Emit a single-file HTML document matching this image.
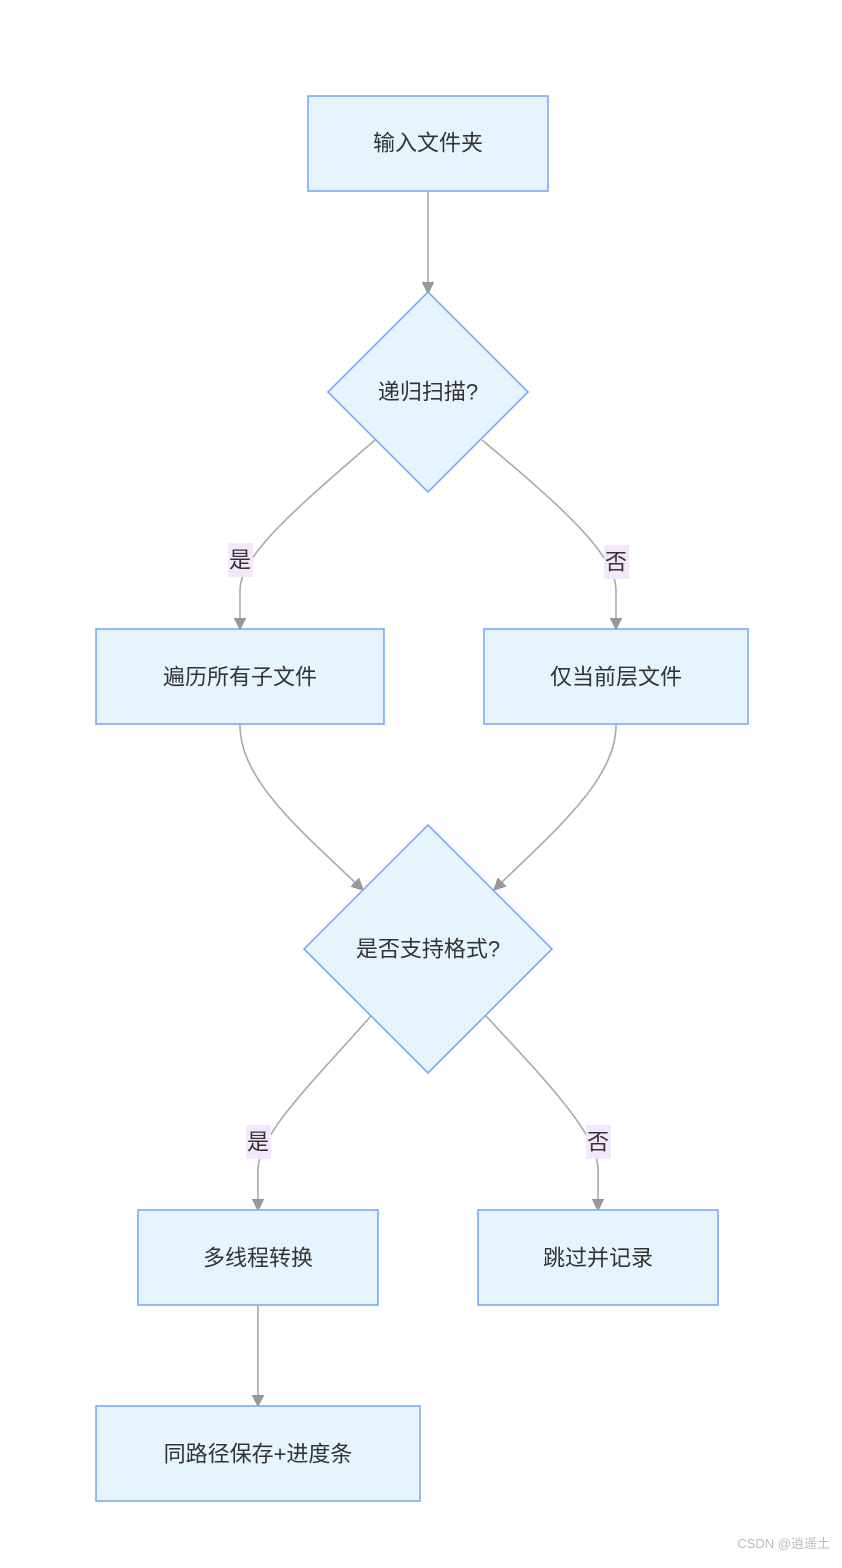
<!DOCTYPE html>
<html><head><meta charset="utf-8"><style>
body{margin:0;background:#fff;}
svg text{font-family:"Liberation Sans","Noto Sans CJK SC",sans-serif;fill:#333;}
</style></head><body>
<svg width="842" height="1563" viewBox="0 0 842 1563" xmlns="http://www.w3.org/2000/svg">
<defs><marker id="a" markerWidth="12" markerHeight="12" refX="10" refY="6" orient="auto" markerUnits="userSpaceOnUse"><path d="M0,0 L12,6 L0,12 z" fill="#999" stroke="#888" stroke-width="0.5"/></marker></defs>
<g fill="none" stroke="#aaa" stroke-width="1.6">
<path d="M428,192 L428,292" marker-end="url(#a)"/>
<path d="M375,440 C300,505 240,555 240,590 L240,628" marker-end="url(#a)"/>
<path d="M482,440 C560,505 616,555 616,590 L616,628" marker-end="url(#a)"/>
<path d="M240,725 C240,780 300,830 362,889" marker-end="url(#a)"/>
<path d="M616,725 C616,780 555,830 495,889" marker-end="url(#a)"/>
<path d="M371,1016 C310,1085 258,1135 258,1170 L258,1209" marker-end="url(#a)"/>
<path d="M486,1016 C550,1085 598,1135 598,1170 L598,1209" marker-end="url(#a)"/>
<path d="M258,1306 L258,1405" marker-end="url(#a)"/>
</g>
<g fill="#e6f5fd" stroke="#7aabf5" stroke-width="1.6">
<rect x="308" y="96" width="240" height="95"/>
<polygon points="428,292 528,392 428,492 328,392"/>
<rect x="96" y="629" width="288" height="95"/>
<rect x="484" y="629" width="264" height="95"/>
<polygon points="428,825 552,949 428,1073 304,949"/>
<rect x="138" y="1210" width="240" height="95"/>
<rect x="478" y="1210" width="240" height="95"/>
<rect x="96" y="1406" width="324" height="95"/>
</g>
<g fill="#f3e8fb">
<rect x="228" y="543" width="25" height="34"/>
<rect x="604" y="545" width="25" height="34"/>
<rect x="246" y="1125" width="25" height="34"/>
<rect x="586" y="1125" width="25" height="34"/>
</g>
<g font-size="22" text-anchor="middle" dominant-baseline="central">
<text x="428" y="143">输入文件夹</text>
<text x="428" y="392">递归扫描?</text>
<text x="240" y="677">遍历所有子文件</text>
<text x="616" y="677">仅当前层文件</text>
<text x="428" y="949">是否支持格式?</text>
<text x="258" y="1258">多线程转换</text>
<text x="598" y="1258">跳过并记录</text>
<text x="258" y="1454">同路径保存+进度条</text>
<text x="240" y="560">是</text>
<text x="616" y="562">否</text>
<text x="258" y="1142">是</text>
<text x="598" y="1142">否</text>
</g>
<text x="830" y="1548" font-size="13" text-anchor="end" style="fill:#bbb">CSDN @逍遥土</text>
</svg>
</body></html>
